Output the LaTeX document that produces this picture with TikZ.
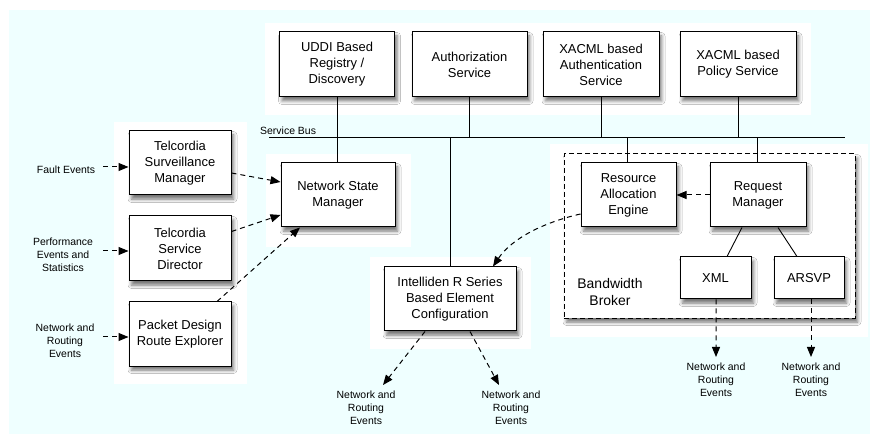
\documentclass[tikz,border=0pt]{standalone}
\usepackage{fontspec}
\setmainfont{Liberation Sans}
\usetikzlibrary{arrows.meta,shadows.blur,calc}
\definecolor{bgcyan}{HTML}{EFFFFF}

\begin{document}
\begin{tikzpicture}[x=1bp,y=-1bp,
  soft/.style={blur shadow={shadow xshift=2.5bp, shadow yshift=-4bp, shadow blur radius=3.5bp, shadow opacity=55}},
  box/.style={draw, line width=1bp, fill=white, align=center, inner sep=0pt,
    font=\fontsize{13}{16}\selectfont, soft},
  evt/.style={align=center, font=\fontsize{10.5}{13}\selectfont, inner sep=0pt},
  link/.style={line width=0.9bp},
  flow/.style={line width=1bp, dash pattern=on 5bp off 4bp, -{Triangle[length=10bp,width=8bp]}},
  panel/.style={fill=white, draw=none}]

\useasboundingbox (0,0) rectangle (870,434);
\fill[bgcyan] (9,10) rectangle (870,434);

% white panels behind the groups
\fill[panel] (265,23) rectangle (811,115);
\fill[panel] (114,122) rectangle (247,384);
\fill[panel] (266,154) rectangle (411,247);
\fill[panel] (370,257) rectangle (531,349);
\fill[panel] (550,144) rectangle (868,337);

% bandwidth broker container
\node[draw, line width=1bp, dash pattern=on 5bp off 3bp, fill=white, inner sep=0pt,
  minimum width=291bp, minimum height=164bp, soft]
  (bb) at (709.5,236) {};
\node[align=center, font=\fontsize{14}{17}\selectfont, inner sep=0pt] (bblabel) at (610,292) {Bandwidth\\Broker};

% services on the bus
\node[box, minimum width=115bp, minimum height=65bp] (uddi) at (337,64.5) {UDDI Based\\Registry /\\Discovery};
\node[box, minimum width=115bp, minimum height=65bp] (auth) at (469.5,64.5) {Authorization\\Service};
\node[box, minimum width=116bp, minimum height=65bp] (authn) at (601,64.5) {XACML based\\Authentication\\Service};
\node[box, minimum width=116bp, minimum height=65bp] (policy) at (738,64.5) {XACML based\\Policy Service};

% left column
\node[box, minimum width=102bp, minimum height=64bp] (tsm) at (180,163) {Telcordia\\Surveillance\\Manager};
\node[box, minimum width=102bp, minimum height=65bp] (tsd) at (180,248.5) {Telcordia\\Service\\Director};
\node[box, minimum width=102bp, minimum height=64bp] (pdre) at (180,334) {Packet Design\\Route Explorer};

\node[box, minimum width=114bp, minimum height=64bp] (nsm) at (338,195) {Network State\\Manager};
\node[box, minimum width=132bp, minimum height=64bp] (intel) at (450,299) {Intelliden R Series\\Based Element\\Configuration};

% inside the broker
\node[box, minimum width=95bp, minimum height=64bp] (rae) at (628.5,195) {Resource\\Allocation\\Engine};
\node[box, minimum width=96bp, minimum height=64bp] (rm) at (758,195) {Request\\Manager};
\node[box, minimum width=71bp, minimum height=42bp] (xml) at (715.5,278) {XML};
\node[box, minimum width=70bp, minimum height=42bp] (arsvp) at (809,278) {ARSVP};

% service bus
\coordinate (busL) at (269,137);
\coordinate (busR) at (845,137);
\draw[link] (busL) -- (busR);
\node[anchor=south west, font=\fontsize{10.5}{12}\selectfont, inner sep=0pt] (buslabel) at (260,135) {Service Bus};

\draw[link] (uddi.south) -- (uddi.south |- nsm.north);
\draw[link] (auth.south) -- (auth.south |- busL);
\draw[link] (authn.south) -- (authn.south |- busL);
\draw[link] (policy.south) -- (policy.south |- busL);
\draw[link] (intel.north) -- (intel.north |- busL);
\draw[link] ([xshift=-1.5bp]rae.north) -- ([xshift=-1.5bp]rae.north |- busL);
\draw[link] ([xshift=-1bp]rm.north) -- ([xshift=-1bp]rm.north |- busL);
\draw[link] ($(rm.south)+(-16,0)$) -- ($(xml.north)+(11.5,0)$);
\draw[link] ($(rm.south)+(20,0)$) -- ($(arsvp.north)+(-12,0)$);

% event labels
\node[evt] (fault) at (66,170) {Fault Events};
\node[evt] (perf) at (63,255) {Performance\\Events and\\Statistics};
\node[evt] (routeIn) at (65,341) {Network and\\Routing\\Events};
\node[evt, anchor=north] (out1) at (366,391) {Network and\\Routing\\Events};
\node[evt, anchor=north] (out2) at (511,391) {Network and\\Routing\\Events};
\node[evt, anchor=north] (out3) at (716,363) {Network and\\Routing\\Events};
\node[evt, anchor=north] (out4) at (811,363) {Network and\\Routing\\Events};

\coordinate (in1) at (103,167);
\coordinate (in2) at (103,251);
\coordinate (in3) at (103,337);
\draw[flow] (in1) -- (in1 -| tsm.west);
\draw[flow] (in2) -- (in2 -| tsd.west);
\draw[flow] (in3) -- (in3 -| pdre.west);

\draw[flow] ($(tsm.east)+(0,10)$) -- ($(nsm.west)+(0,-13)$);
\draw[flow] ($(tsd.east)+(0,-17)$) -- ($(nsm.west)+(0,20)$);
\draw[flow] ($(pdre.north)+(37,0)$) -- ($(nsm.south)+(-38,0)$);

\draw[flow] (rm.west) -- (rae.east);
\draw[flow] ($(rae.west)+(0,19)$) .. controls (545,222) and (512,238) .. ($(intel.north)+(43,0)$);

\draw[flow] ($(intel.south)+(-25,0)$) -- ($(out1.north)+(17,-6)$);
\draw[flow] ($(intel.south)+(20,0)$) -- ($(out2.north)+(-12,-6)$);
\draw[flow] ($(xml.south)+(0.5,0)$) -- ($(out3.north)+(0,-6)$);
\draw[flow] ($(arsvp.south)+(2,0)$) -- ($(out4.north)+(0,-6)$);
\end{tikzpicture}
\end{document}
